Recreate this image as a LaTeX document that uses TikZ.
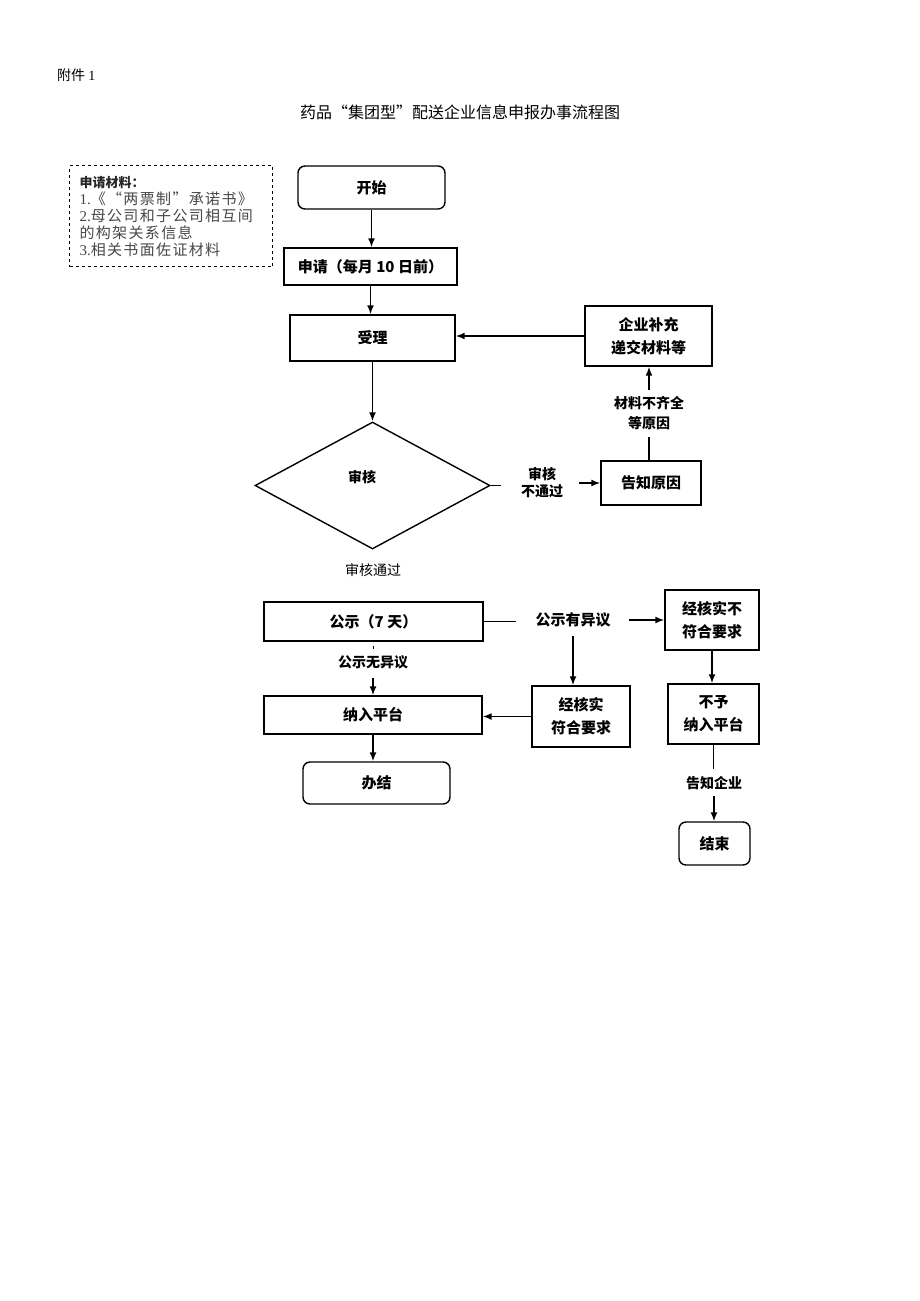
\documentclass[tikz,border=0pt]{standalone}
\usepackage{fontspec}
\newfontfamily\cjk{Noto Sans CJK SC}
\newfontfamily\cjkls{Noto Sans CJK SC}[LetterSpace=9]
\newfontfamily\serif{Liberation Serif}
\usetikzlibrary{shapes.geometric,arrows.meta}
\begin{document}
\begin{tikzpicture}[x=1pt,y=-1pt,
  every node/.style={font=\cjk\bfseries\fontsize{15}{23}\selectfont},
  box/.style={draw,line width=1.4pt,inner sep=0pt,align=center},
  rbox/.style={box,rounded corners=7pt},
  lbl/.style={align=center,inner sep=1pt,font=\cjk\bfseries\fontsize{14}{17}\selectfont},
  plain/.style={inner sep=1pt,font=\cjk\fontsize{14}{17}\selectfont},
  arr/.style={-{Latex[length=9pt,width=7pt]},line width=1.6pt},
  ln/.style={line width=1.6pt}]
\useasboundingbox (0,0) rectangle (920,1301);

% header
\node[plain,anchor=west] (att) at (56,75) {附件 {\serif 1}};
\node[plain,font=\cjk\fontsize{16}{18}\selectfont] (title) at (460,112) {药品“集团型”配送企业信息申报办事流程图};

% materials box
\node[draw,dashed,line width=1.1pt,anchor=north west,minimum width=203pt,minimum height=101pt,
      inner xsep=10pt,inner ysep=4pt,text width=183pt,align=left,text=black!72,
      font=\cjkls\fontsize{15}{17}\selectfont] (mat) at (69,165)
 {{\cjk\bfseries\fontsize{13}{17}\selectfont\color{black!85}申请材料：}\\
  {\serif 1.}《“两票制”承诺书》\\
  {\serif 2.}母公司和子公司相互间\\
  的构架关系信息\\
  {\serif 3.}相关书面佐证材料};

% boxes
\node[rbox,minimum width=147pt,minimum height=43pt] (start) at (371.5,187.5) {开始};
\node[box,minimum width=173pt,minimum height=37pt] (apply) at (370.5,266.5) {申请（每月 10 日前）};
\node[box,minimum width=165pt,minimum height=46pt] (accept) at (372.5,338) {受理};
\node[box,minimum width=127pt,minimum height=60pt] (supp) at (648.5,336) {企业补充\\递交材料等};
\node[draw,diamond,line width=1.4pt,inner sep=0pt,minimum width=235pt,minimum height=127pt] (dia) at (372.5,485.5) {};
\node[lbl,font=\cjk\bfseries\fontsize{14}{17}\selectfont] (diatext) at (362,477) {审核};
\node[box,minimum width=100pt,minimum height=44pt] (inform) at (651,483) {告知原因};
\node[lbl] (nopass) at (542,483) {审核\\不通过};
\node[lbl,font=\cjk\bfseries\fontsize{14}{20}\selectfont] (reason) at (649,413) {材料不齐全\\等原因};
\node[plain] (pass) at (373,570) {审核通过};

\node[box,minimum width=219pt,minimum height=39pt] (pub) at (373.5,621.5) {公示（7 天）};
\node[lbl,font=\cjk\bfseries\fontsize{15}{17}\selectfont] (obj) at (573,620) {公示有异议};
\node[box,minimum width=94pt,minimum height=60pt] (notok) at (712,620) {经核实不\\符合要求};
\node[box,minimum width=98pt,minimum height=61pt] (ok) at (581,716.5) {经核实\\符合要求};
\node[lbl] (noobj) at (373,662) {公示无异议};
\node[box,minimum width=218pt,minimum height=38pt] (nain) at (373,715) {纳入平台};
\node[rbox,minimum width=147pt,minimum height=42pt] (done) at (376.5,783) {办结};
\node[box,minimum width=91pt,minimum height=60pt] (reject) at (713.5,714) {不予\\纳入平台};
\node[lbl] (tell) at (714,783) {告知企业};
\node[rbox,minimum width=71pt,minimum height=43pt] (end) at (714.5,843.5) {结束};

% connectors
\draw[arr] (start.south) -- (start.south |- apply.north);
\draw[arr] (apply.south) -- (apply.south |- accept.north);
\draw[arr] (accept.south) -- (dia.north);
\draw[arr] (supp.west) -- (supp.west -| accept.east);
\draw[ln] (dia.east) -- ++(10,0);
\draw[arr,shorten <=15pt] (nopass.east) -- (nopass.east -| inform.west);
\draw[ln,shorten >=6pt] (reason.south |- inform.north) -- (reason.south);
\draw[arr,shorten <=5pt] (reason.north) -- (reason.north |- supp.south);

\draw[ln,shorten >=18pt] (pub.east) -- (pub.east -| obj.west);
\draw[arr,shorten <=17pt] (obj.east) -- (obj.east -| notok.west);
\draw[arr,shorten <=8pt] (obj.south) -- (obj.south |- ok.north);
\draw[arr] (ok.west) -- (ok.west -| nain.east);
\draw[ln,shorten <=4pt] (pub.south) -- ++(0,7);
\draw[arr,shorten <=8pt] (noobj.south) -- (noobj.south |- nain.north);
\draw[arr] (nain.south) -- (nain.south |- done.north);
\draw[arr] (notok.south) -- (notok.south |- reject.north);
\draw[ln,shorten >=6pt] (reject.south) -- (reject.south |- tell.north);
\draw[arr,shorten <=5pt] (tell.south) -- (tell.south |- end.north);
\end{tikzpicture}
\end{document}
